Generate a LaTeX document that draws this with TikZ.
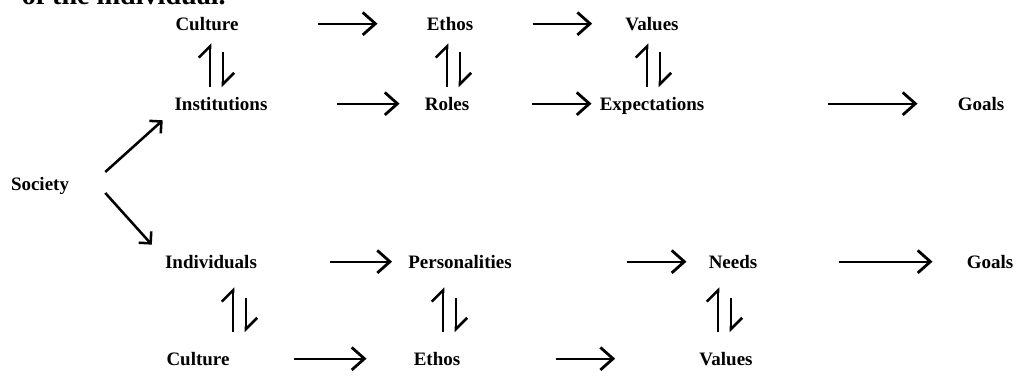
\documentclass[tikz,border=0pt]{standalone}
\usepackage{fontspec}
\setmainfont{Liberation Serif}
\usetikzlibrary{arrows.meta}
\newdimen\pxu \pxu=0.7113pt
\begin{document}
\begin{tikzpicture}[x=0.025cm,y=-0.025cm,
  word/.style={font=\bfseries\fontsize{13.5}{16}\selectfont,inner sep=0pt,text height=9pt,text depth=0pt,anchor=base},
  arr/.style={line width=1.5pt,-{Straight Barb[length=9pt,width=16pt,line width=2pt]}},
  harp/.style={line width=1.8pt,-{Straight Barb[harpoon,length=8pt,width=16pt]}},
  diag/.style={line width=1.8pt,-{Straight Barb[length=6pt,width=12pt]}}]
\useasboundingbox (0,0) rectangle (1026,377);
\node[font=\bfseries\fontsize{20}{24}\selectfont,inner sep=0pt,anchor=base east] (top-line) at (226,4) {of the individual.};
\node[word] (culture-1) at (207,30) {Culture};
\node[word] (ethos-1) at (450,30) {Ethos};
\node[word] (values-1) at (652,30) {Values};
\node[word] (institutions) at (221,110) {Institutions};
\node[word] (roles) at (447,110) {Roles};
\node[word] (expectations) at (652,110) {Expectations};
\node[word] (goals-1) at (981,110) {Goals};
\node[word] (society) at (40,190) {Society};
\node[word] (individuals) at (211,268) {Individuals};
\node[word] (personalities) at (460,268) {Personalities};
\node[word] (needs) at (733,268) {Needs};
\node[word] (goals-2) at (990,268) {Goals};
\node[word] (culture-2) at (198,365) {Culture};
\node[word] (ethos-2) at (437,365) {Ethos};
\node[word] (values-2) at (726,365) {Values};
\draw[arr,shorten <=79*\pxu,shorten >=49*\pxu] (culture-1.east) -- (ethos-1.west);
\draw[arr,shorten <=59*\pxu,shorten >=33*\pxu] (ethos-1.east) -- (values-1.west);
\draw[arr,shorten <=69*\pxu,shorten >=25*\pxu] (institutions.east) -- (roles.west);
\draw[arr,shorten <=63*\pxu,shorten >=8*\pxu] (roles.east) -- (expectations.west);
\draw[arr,shorten <=123*\pxu,shorten >=40*\pxu] (expectations.east) -- (goals-1.west);
\draw[arr,shorten <=73*\pxu,shorten >=16*\pxu] (individuals.east) -- (personalities.west);
\draw[arr,shorten <=115*\pxu,shorten >=22*\pxu] (personalities.east) -- (needs.west);
\draw[arr,shorten <=81*\pxu,shorten >=34*\pxu] (needs.east) -- (goals-2.west);
\draw[arr,shorten <=64*\pxu,shorten >=47*\pxu] (culture-2.east) -- (ethos-2.west);
\draw[arr,shorten <=95*\pxu,shorten >=84*\pxu] (ethos-2.east) -- (values-2.west);
\draw[diag] ([shift={(36,-11.7)}]society.east) -- ([shift={(-11.6,10)}]institutions.south west);
\draw[diag] ([shift={(36,9.3)}]society.east) -- ([shift={(-13,-10.4)}]individuals.north west);
\draw[harp,shorten <=10*\pxu,shorten >=13*\pxu] ([shift={(-11,0)}]institutions.north) -- ([shift={(3,0)}]culture-1.south);
\draw[harp,shorten <=22*\pxu,shorten >=10*\pxu] ([shift={(16,0)}]culture-1.south) -- ([shift={(2,0)}]institutions.north);
\draw[harp,shorten <=10*\pxu,shorten >=13*\pxu] (roles.north) -- ([shift={(-3,0)}]ethos-1.south);
\draw[harp,shorten <=22*\pxu,shorten >=10*\pxu] ([shift={(10,0)}]ethos-1.south) -- ([shift={(13,0)}]roles.north);
\draw[harp,shorten <=10*\pxu,shorten >=13*\pxu] ([shift={(-5,0)}]expectations.north) -- ([shift={(-5,0)}]values-1.south);
\draw[harp,shorten <=22*\pxu,shorten >=10*\pxu] ([shift={(8,0)}]values-1.south) -- ([shift={(8,0)}]expectations.north);
\draw[harp,shorten <=20*\pxu,shorten >=19*\pxu] ([shift={(35,0)}]culture-2.north) -- ([shift={(22,0)}]individuals.south);
\draw[harp,shorten <=30*\pxu,shorten >=20*\pxu] ([shift={(35,0)}]individuals.south) -- ([shift={(48,0)}]culture-2.north);
\draw[harp,shorten <=20*\pxu,shorten >=19*\pxu] ([shift={(6,0)}]ethos-2.north) -- ([shift={(-17,0)}]personalities.south);
\draw[harp,shorten <=30*\pxu,shorten >=20*\pxu] ([shift={(-4,0)}]personalities.south) -- ([shift={(19,0)}]ethos-2.north);
\draw[harp,shorten <=20*\pxu,shorten >=19*\pxu] ([shift={(-8,0)}]values-2.north) -- ([shift={(-15,0)}]needs.south);
\draw[harp,shorten <=30*\pxu,shorten >=20*\pxu] ([shift={(-2,0)}]needs.south) -- ([shift={(5,0)}]values-2.north);
\end{tikzpicture}
\end{document}
